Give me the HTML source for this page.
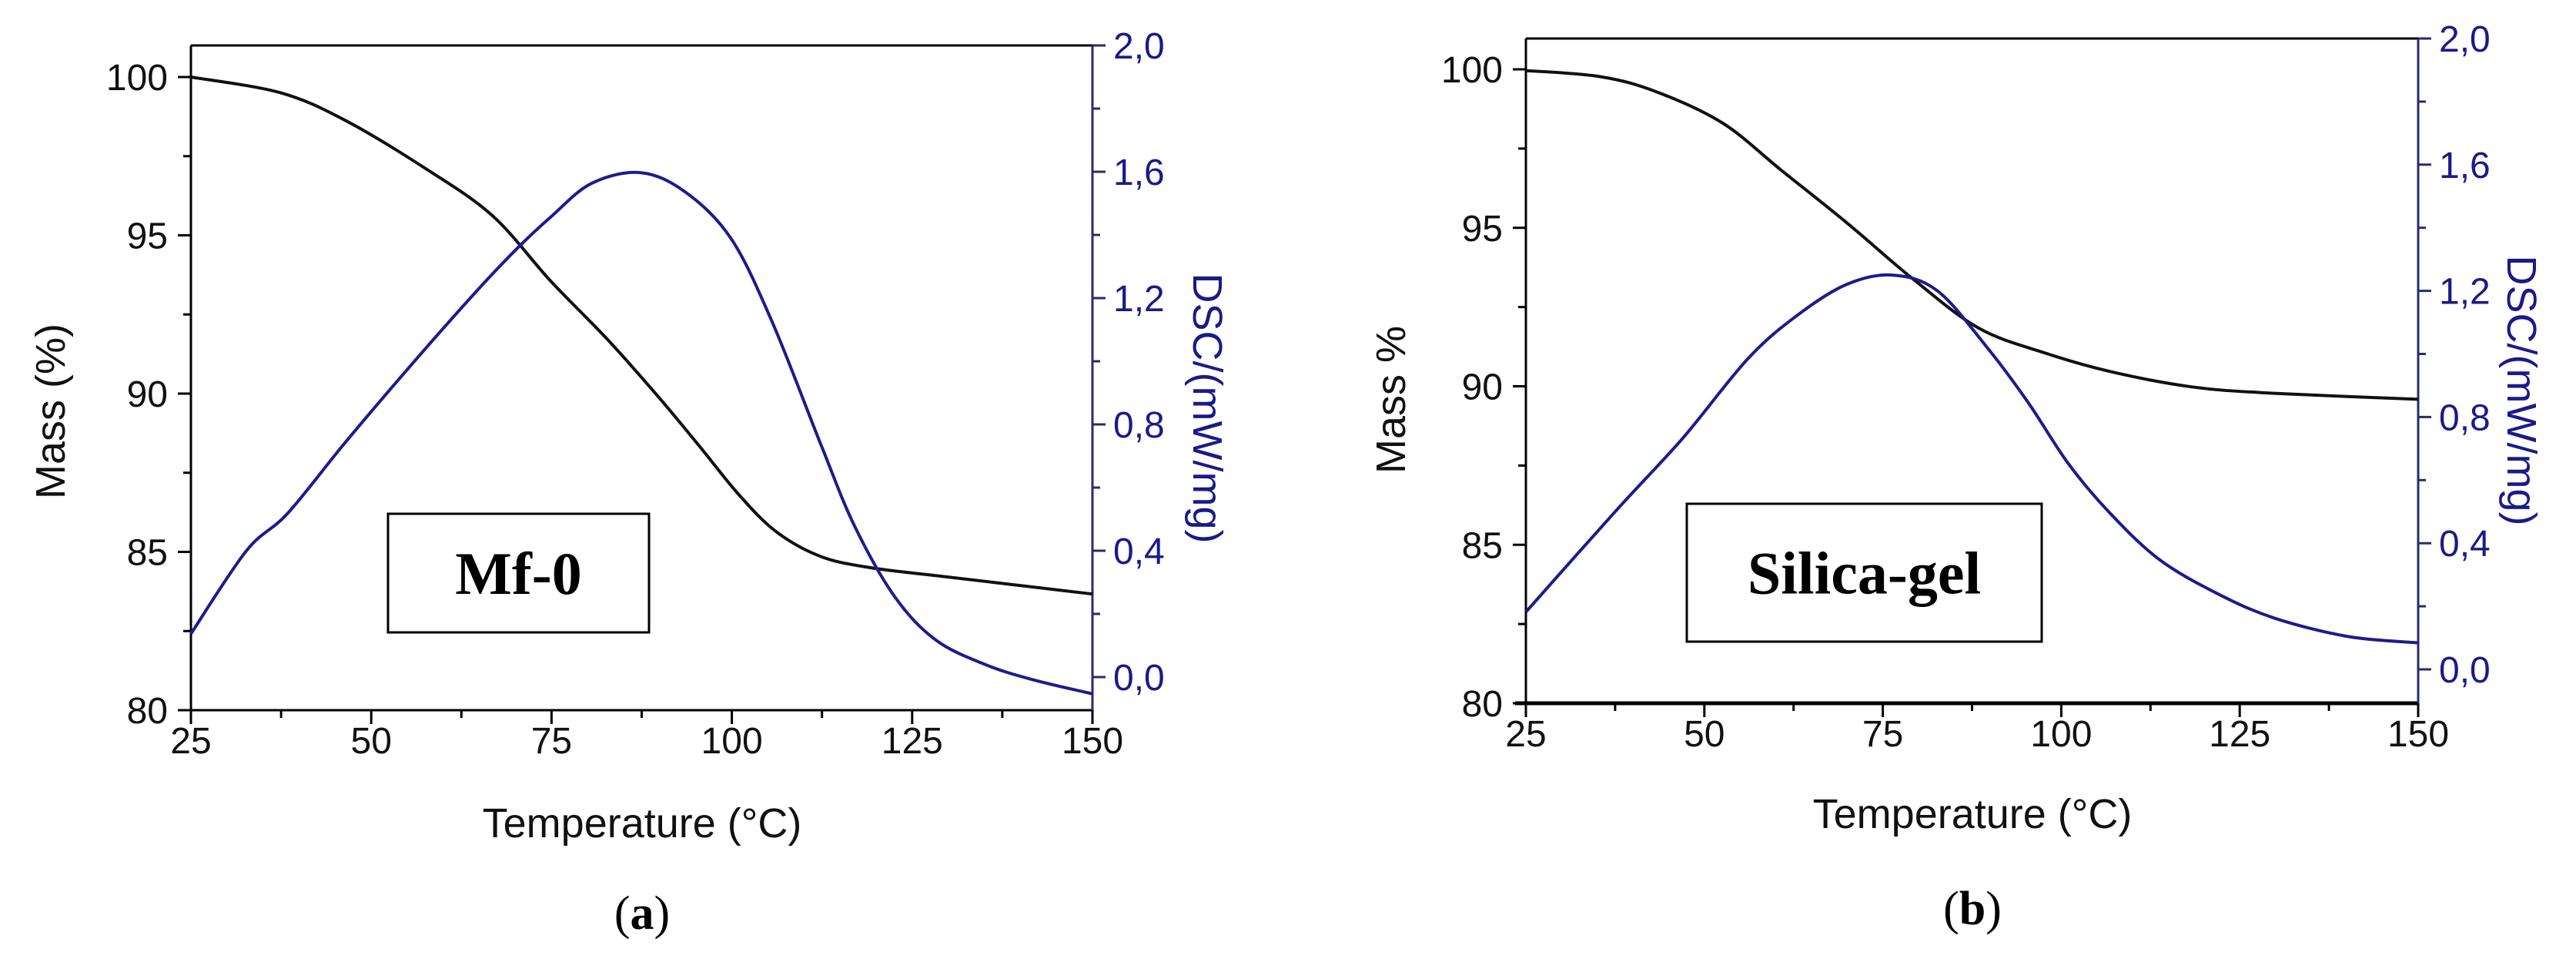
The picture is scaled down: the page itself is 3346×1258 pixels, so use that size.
<!DOCTYPE html>
<html><head><meta charset="utf-8">
<style>
html,body{margin:0;padding:0;background:#fff;}
svg{display:block;}
text{font-family:"Liberation Sans",Arial,sans-serif;}
</style></head>
<body>
<svg id="fig" width="3346" height="1258" viewBox="0 0 3346 1258" xmlns="http://www.w3.org/2000/svg"></svg>
<script>
// Panel (a) data — Mf-0
const tempsA = [25,37.3,46.4,57.8,66.9,74.9,82.8,89.7,95.4,101,106.2,112.4,119.3,129.5,150];
const massA = [100,99.51,98.63,97.07,95.6,93.55,91.7,89.93,88.37,86.8,85.63,84.85,84.5,84.22,83.67];
const dscTempsA = [25,32.7,38.4,46.4,55.5,64.6,70.3,74.9,80.6,87.4,93.6,99.9,105.6,112.4,117,122.6,128.3,135.2,142,150];
const dscA = [0.137,0.40,0.518,0.743,0.987,1.222,1.359,1.457,1.564,1.597,1.535,1.388,1.124,0.733,0.479,0.254,0.117,0.039,-0.01,-0.053];
// Panel (b) data — Silica-gel
const tempsB = [25,35.4,43.4,52.6,60.7,69.9,79.1,88.4,97.6,106.8,118.3,129.8,150];
const massB = [99.96,99.77,99.28,98.3,96.83,95.17,93.41,91.84,91.06,90.47,89.98,89.78,89.59];
const dscTempsB = [25,37.7,46.9,56.1,63,69.9,76.3,82.6,89.5,95.3,101,106.8,113.7,121.8,129.8,140.2,150];
const dscB = [0.182,0.505,0.731,0.985,1.122,1.22,1.25,1.201,1.024,0.848,0.652,0.496,0.349,0.241,0.163,0.104,0.084];
// Ticks
const xTicks = [25,50,75,100,125,150];
const massTicks = [80,85,90,95,100];
const dscTicks = [0.0,0.4,0.8,1.2,1.6,2.0];
const dscTickLabels = ["0,0","0,4","0,8","1,2","1,6","2,0"];

const NS="http://www.w3.org/2000/svg";
const svg=document.getElementById('fig');
function mk(tag,attrs,parent){const e=document.createElementNS(NS,tag);for(const k in attrs)e.setAttribute(k,attrs[k]);(parent||svg).appendChild(e);return e;}
function smooth(pts){
  let d='M'+pts[0][0].toFixed(1)+','+pts[0][1].toFixed(1);
  for(let i=0;i<pts.length-1;i++){
    const p0=pts[i-1]||pts[i],p1=pts[i],p2=pts[i+1],p3=pts[i+2]||p2;
    const c1=[p1[0]+(p2[0]-p0[0])/6,p1[1]+(p2[1]-p0[1])/6];
    const c2=[p2[0]-(p3[0]-p1[0])/6,p2[1]-(p3[1]-p1[1])/6];
    d+=' C'+c1[0].toFixed(1)+','+c1[1].toFixed(1)+' '+c2[0].toFixed(1)+','+c2[1].toFixed(1)+' '+p2[0].toFixed(1)+','+p2[1].toFixed(1);
  }
  return d;
}

function panel(cfg){
  const g=mk('g',{});
  
  
  const L=cfg.L,R=cfg.R,T=cfg.T,B=cfg.B;
  const xs=v=>L+(v-25)/(150-25)*(R-L);
  const ym=v=>cfg.y100+(100-v)*cfg.mUnit;
  const yd=v=>cfg.y0+(-v)*cfg.dUnit;
  const top=mk('line',{x1:L,y1:T,x2:R,y2:T,stroke:'#000','stroke-width':3},g);
  
  const la=mk('line',{x1:L,y1:T,x2:L,y2:B+8,stroke:'#000','stroke-width':3},g);
  
  const xa=mk('line',{x1:L-14,y1:B,x2:R,y2:B,stroke:'#000','stroke-width':cfg.bw},g);
  
  const ra=mk('line',{x1:R,y1:T,x2:R,y2:B,stroke:'#2b2b6b','stroke-width':3},g);
  
  xTicks.forEach((v,i)=>{
    const x=xs(v);
    mk('line',{x1:x,y1:B,x2:x,y2:B+18,stroke:'#000','stroke-width':3},g);
    if(i<xTicks.length-1){const xm=xs(v+12.5);mk('line',{x1:xm,y1:B,x2:xm,y2:B+10,stroke:'#000','stroke-width':3},g);}
    const t=mk('text',{x:x,y:B+56,'font-size':48,'text-anchor':'middle',fill:'#111'},g);
    t.textContent=v;
    
  });
  massTicks.forEach((v,i)=>{
    const y=ym(v);
    mk('line',{x1:L-17,y1:y,x2:L,y2:y,stroke:'#000','stroke-width':3},g);
    if(i<massTicks.length-1){const y2=ym(v+2.5);mk('line',{x1:L-10,y1:y2,x2:L,y2:y2,stroke:'#000','stroke-width':3},g);}
    const t=mk('text',{x:L-30,y:y+17,'font-size':48,'text-anchor':'end',fill:'#111'},g);
    t.textContent=v;
    
  });
  dscTicks.forEach((v,i)=>{
    const y=yd(v);
    mk('line',{x1:R,y1:y,x2:R+17,y2:y,stroke:'#2b2b6b','stroke-width':3},g);
    if(i<dscTicks.length-1){const y2=yd(v+0.2);mk('line',{x1:R,y1:y2,x2:R+10,y2:y2,stroke:'#2b2b6b','stroke-width':3},g);}
    const t=mk('text',{x:R+27,y:y+17,'font-size':48,'text-anchor':'start',fill:'#1a1a8a'},g);
    t.textContent=dscTickLabels[i];
    
  });
  const mpts=cfg.mt.map((t,i)=>[xs(t),ym(cfg.m[i])]);
  const ml=mk('path',{d:smooth(mpts),fill:'none',stroke:'#111','stroke-width':4,'stroke-linejoin':'round'},g);
  
  const dpts=cfg.dt.map((t,i)=>[xs(t),yd(cfg.d[i])]);
  const dl=mk('path',{d:smooth(dpts),fill:'none',stroke:'#1c1c8c','stroke-width':4,'stroke-linejoin':'round'},g);
  
  const yt=mk('text',{x:0,y:0,'font-size':54,'text-anchor':'middle',fill:'#111',transform:`translate(${cfg.myx},${cfg.myy}) rotate(-90)`},g);
  yt.textContent=cfg.mTitle;
  const dt=mk('text',{x:0,y:0,'font-size':54,'text-anchor':'middle',fill:'#1a1a8a',transform:`translate(${cfg.dyx},${cfg.dyy}) rotate(90)`},g);
  dt.textContent='DSC/(mW/mg)';
  const xt=mk('text',{x:cfg.xtx,y:cfg.xty,'font-size':54,'text-anchor':'middle',fill:'#111'},g);
  xt.textContent='Temperature (°C)';
  const bx=mk('rect',{x:cfg.box[0],y:cfg.box[1],width:cfg.box[2]-cfg.box[0],height:cfg.box[3]-cfg.box[1],fill:'#fff',stroke:'#000','stroke-width':3},g);
  
  const bt=mk('text',{x:(cfg.box[0]+cfg.box[2])/2,y:(cfg.box[1]+cfg.box[3])/2+27,'font-size':78,'font-weight':'bold','text-anchor':'middle',fill:'#000',style:'font-family:"Liberation Serif",serif'},g);
  bt.textContent=cfg.label;
  const cp=mk('text',{x:cfg.xtx,y:cfg.capy,'font-size':62,'text-anchor':'middle',fill:'#000',style:'font-family:"Liberation Serif",serif'},g);
  cp.innerHTML='(<tspan font-weight="bold">'+cfg.cap+'</tspan>)';
  
}

panel({id:'panel-a',L:248,R:1419,T:59,B:922,y100:100,mUnit:41.1,y0:879,dUnit:410,bw:3,
  mt:tempsA,m:massA,dt:dscTempsA,d:dscA,mTitle:'Mass (%)',myx:84,myy:534,dyx:1550,dyy:530,
  xtx:834,xty:1087,box:[504,667,843,821],label:'Mf-0',cap:'a',capy:1206});
panel({id:'panel-b',L:1982,R:3141,T:50,B:913,y100:90,mUnit:41.15,y0:869,dUnit:409.5,bw:5,
  mt:tempsB,m:massB,dt:dscTempsB,d:dscB,mTitle:'Mass %',myx:1825,myy:519,dyx:3257,dyy:507,
  xtx:2562,xty:1075,box:[2191,654,2652,833],label:'Silica-gel',cap:'b',capy:1200});
</script>
</body></html>
